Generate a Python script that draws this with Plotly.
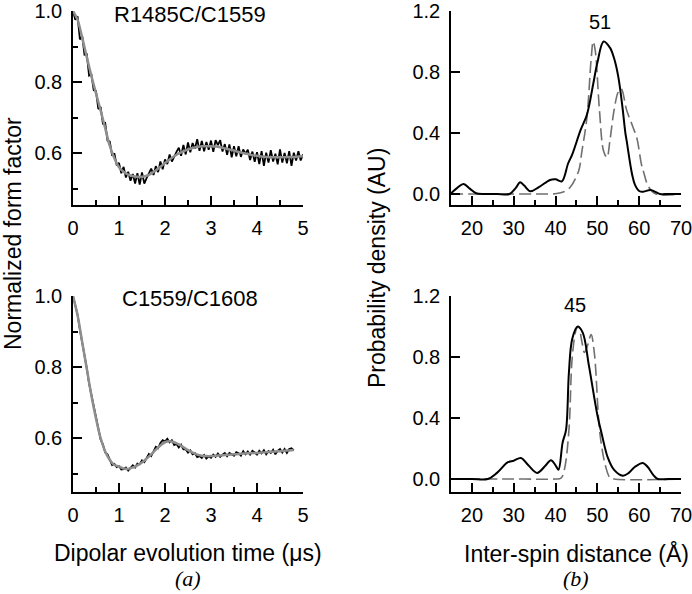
import plotly.graph_objects as go

W, H = 692, 594

# ---------------- data ----------------
# (a) top: R1485C/C1559
t_fit_top = [round(0.1 * i, 2) for i in range(51)]
fit_top = [1.000, 0.975, 0.925, 0.870, 0.817, 0.768, 0.720, 0.670, 0.620, 0.585,
           0.560, 0.547, 0.539, 0.535, 0.533, 0.533, 0.536, 0.542, 0.551, 0.561,
           0.572, 0.582, 0.591, 0.599, 0.605, 0.610, 0.614, 0.617, 0.619, 0.619,
           0.619, 0.618, 0.616, 0.613, 0.610, 0.607, 0.603, 0.600, 0.597, 0.594,
           0.592, 0.590, 0.589, 0.588, 0.588, 0.588, 0.588, 0.589, 0.589, 0.590,
           0.591]
t_dat_top = [round(0.05 * i, 2) for i in range(101)]
dat_top = [1.000, 0.975, 0.985, 0.920, 0.930, 0.877, 0.878, 0.818, 0.821, 0.777,
           0.774, 0.724, 0.730, 0.683, 0.685, 0.635, 0.632, 0.593, 0.599, 0.565,
           0.572, 0.543, 0.561, 0.531, 0.547, 0.522, 0.541, 0.514, 0.543, 0.511,
           0.545, 0.514, 0.529, 0.541, 0.556, 0.538, 0.563, 0.546, 0.576, 0.554,
           0.582, 0.569, 0.596, 0.576, 0.591, 0.603, 0.615, 0.592, 0.623, 0.596,
           0.630, 0.602, 0.628, 0.612, 0.639, 0.606, 0.634, 0.605, 0.631, 0.609,
           0.635, 0.603, 0.636, 0.622, 0.636, 0.604, 0.625, 0.595, 0.624, 0.588,
           0.619, 0.591, 0.619, 0.589, 0.610, 0.598, 0.609, 0.580, 0.604, 0.575,
           0.602, 0.569, 0.605, 0.564, 0.601, 0.573, 0.608, 0.576, 0.598, 0.568,
           0.610, 0.573, 0.600, 0.571, 0.605, 0.564, 0.601, 0.579, 0.605, 0.579,
           0.596]

# (a) bottom: C1559/C1608
t_fit_bot = [round(0.1 * i, 2) for i in range(49)]
fit_bot = [1.000, 0.945, 0.870, 0.795, 0.720, 0.655, 0.600, 0.562, 0.538, 0.524,
           0.520, 0.514, 0.513, 0.517, 0.523, 0.531, 0.542, 0.554, 0.567, 0.579,
           0.588, 0.591, 0.588, 0.582, 0.574, 0.566, 0.559, 0.553, 0.550, 0.549,
           0.549, 0.550, 0.551, 0.552, 0.553, 0.554, 0.555, 0.556, 0.557, 0.558,
           0.558, 0.559, 0.560, 0.561, 0.562, 0.563, 0.564, 0.565, 0.566]
t_dat_bot = [round(0.05 * i, 2) for i in range(97)]
dat_bot = [1.000, 0.971, 0.947, 0.905, 0.869, 0.837, 0.796, 0.753, 0.722, 0.685,
           0.659, 0.628, 0.596, 0.582, 0.559, 0.554, 0.536, 0.524, 0.527, 0.518,
           0.521, 0.511, 0.512, 0.517, 0.508, 0.517, 0.523, 0.517, 0.528, 0.526,
           0.537, 0.532, 0.544, 0.555, 0.549, 0.563, 0.575, 0.571, 0.586, 0.594,
           0.590, 0.598, 0.588, 0.594, 0.580, 0.583, 0.573, 0.581, 0.568, 0.568,
           0.559, 0.565, 0.554, 0.557, 0.546, 0.549, 0.544, 0.552, 0.542, 0.548,
           0.544, 0.553, 0.547, 0.556, 0.547, 0.553, 0.558, 0.549, 0.558, 0.554,
           0.550, 0.560, 0.557, 0.550, 0.563, 0.554, 0.562, 0.553, 0.564, 0.559,
           0.553, 0.564, 0.557, 0.566, 0.554, 0.563, 0.558, 0.567, 0.554, 0.564,
           0.569, 0.559, 0.569, 0.558, 0.569, 0.571, 0.565]

# (b) top: distance distributions
r_top_solid = [15, 16.5, 18, 19.5, 21, 23, 26, 29, 30.5, 31.5, 32.5, 34, 36, 38.7,
               40, 41.5, 43, 44, 46, 47.5, 49, 50, 51.5, 53, 54, 55, 56, 56.7, 57,
               58.3, 59, 60.1, 61, 62.7, 64, 65, 67, 70]
p_top_solid = [0.004, 0.04, 0.066, 0.035, 0.005, 0.0, 0.0, 0.0, 0.04, 0.077, 0.055,
               0.018, 0.045, 0.092, 0.096, 0.083, 0.2, 0.26, 0.42, 0.52, 0.72, 0.86,
               1.0, 0.96, 0.89, 0.77, 0.57, 0.40, 0.35, 0.13, 0.06, 0.018, 0.015,
               0.026, 0.012, 0.0, 0.0, 0.0]
r_top_dash = [15, 25, 35, 40.3, 42, 43.5, 45.5, 46.3, 47.5, 48.5, 49, 49.5, 50.5,
              51.5, 52.3, 53, 54, 55, 55.7, 57, 58.5, 59.5, 60.5, 61, 62.3, 64, 70]
p_top_dash = [0.0, 0.0, 0.0, 0.003, 0.015, 0.044, 0.15, 0.28, 0.5, 0.88, 1.0, 0.94,
              0.55, 0.28, 0.24, 0.35, 0.55, 0.67, 0.69, 0.55, 0.44, 0.36, 0.2,
              0.15, 0.044, 0.0, 0.0]

# (b) bottom
r_bot_solid = [15, 20, 23.8, 26, 28.6, 30, 31.7, 33.5, 35.6, 37.5, 38.9, 40, 40.7,
               41.7, 42.5, 43.2, 44, 45.3, 46.5, 48, 50, 51, 52.5, 54, 56.1, 57.5,
               59, 60.9, 62, 63.5, 64.5, 67, 70]
p_bot_solid = [0.0, 0.0, 0.0, 0.04, 0.11, 0.12, 0.138, 0.09, 0.04, 0.085, 0.123,
               0.09, 0.061, 0.24, 0.32, 0.7, 0.92, 1.0, 0.96, 0.74, 0.42, 0.3,
               0.14, 0.06, 0.022, 0.04, 0.08, 0.105, 0.08, 0.022, 0.0, 0.0, 0.0]
r_bot_dash = [15, 30, 40, 41.3, 42.1, 43.2, 44, 45, 45.5, 46.3, 46.9, 47.7, 48.5,
              49.3, 50.6, 52, 53, 54, 70]
p_bot_dash = [0.0, 0.0, 0.0, 0.005, 0.06, 0.32, 0.8, 0.985, 1.0, 0.9, 0.83, 0.88,
              0.947, 0.82, 0.3, 0.08, 0.01, 0.0, 0.0]

labels_a = ["R1485C/C1559", "C1559/C1608"]
labels_b = ["51", "45"]

# ---------------- layout helpers ----------------
def px_x(p):
    return p / W

def px_y(p):
    return 1 - p / H

FONT = "Liberation Sans, Arial, sans-serif"
BLACK_LINE = dict(color="black", width=2)
BLACK_NOISE = dict(color="black", width=1.8)
FIT_LINE = dict(color="#8e8e8e", width=2.5)
DASH_LINE = dict(color="#707070", width=1.6, dash="12px,5px")

fig = go.Figure()

fig.add_trace(go.Scatter(x=t_dat_top, y=dat_top, mode="lines", line=BLACK_NOISE,
                         xaxis="x", yaxis="y", showlegend=False))
fig.add_trace(go.Scatter(x=t_fit_top, y=fit_top, mode="lines", line=FIT_LINE,
                         line_shape="spline", xaxis="x", yaxis="y", showlegend=False))
fig.add_trace(go.Scatter(x=t_dat_bot, y=dat_bot, mode="lines", line=BLACK_NOISE,
                         xaxis="x2", yaxis="y2", showlegend=False))
fig.add_trace(go.Scatter(x=t_fit_bot, y=fit_bot, mode="lines", line=FIT_LINE,
                         line_shape="spline", xaxis="x2", yaxis="y2", showlegend=False))
fig.add_trace(go.Scatter(x=r_top_dash, y=p_top_dash, mode="lines", line=DASH_LINE,
                         line_shape="spline", xaxis="x3", yaxis="y3", showlegend=False))
fig.add_trace(go.Scatter(x=r_top_solid, y=p_top_solid, mode="lines", line=BLACK_LINE,
                         line_shape="spline", xaxis="x3", yaxis="y3", showlegend=False))
fig.add_trace(go.Scatter(x=r_bot_dash, y=p_bot_dash, mode="lines", line=DASH_LINE,
                         line_shape="spline", xaxis="x4", yaxis="y4", showlegend=False))
fig.add_trace(go.Scatter(x=r_bot_solid, y=p_bot_solid, mode="lines", line=BLACK_LINE,
                         line_shape="spline", xaxis="x4", yaxis="y4", showlegend=False))

TOP_T, TOP_B = 11, 205
BOT_T, BOT_B = 296, 492
LX0, LX1 = 73, 303
RX0, RX1 = 451, 681

def yl_range(top_px, bot_px):
    return [1.0 - (bot_px - top_px) / 355.0, 1.0]

def yr_range(top_px, bot_px):
    ppu = 183 / 1.2
    return [-(bot_px - top_px - 183) / ppu, 1.2]

tickfont = dict(family=FONT, size=20, color="black")

def xaxis_common(dom, rng, minor_dtick, tickvals, anchor):
    return dict(domain=dom, range=rng, anchor=anchor, showline=True, linecolor="black",
                linewidth=1.5, ticks="inside", ticklen=9, tickwidth=1.5,
                tickcolor="black", tickvals=tickvals, tickfont=tickfont,
                showgrid=False, zeroline=False, automargin=False,
                ticklabelstandoff=4, ticklabeloverflow="allow", fixedrange=True,
                minor=dict(ticks="inside", ticklen=5, tickwidth=1.5, tickcolor="black",
                           dtick=minor_dtick, tick0=0, showgrid=False))

def yaxis_common(dom, rng, tickvals, anchor, minor_dtick=None):
    d = dict(domain=dom, range=rng, anchor=anchor, showline=True, linecolor="black",
             linewidth=1.5, ticks="inside", ticklen=9, tickwidth=1.5,
             tickcolor="black", tickvals=tickvals, tickformat=".1f",
             tickfont=tickfont, showgrid=False, zeroline=False, automargin=False,
             ticklabelstandoff=5, ticklabeloverflow="allow", fixedrange=True)
    if minor_dtick:
        d["minor"] = dict(ticks="inside", ticklen=5, tickwidth=1.5, tickcolor="black",
                          dtick=minor_dtick, tick0=0.5, showgrid=False)
    return d

fig.update_layout(
    width=W, height=H, autosize=False, margin=dict(l=0, r=0, t=0, b=0, pad=0),
    paper_bgcolor="white", plot_bgcolor="white",
    font=dict(family=FONT, color="black"),
    xaxis=xaxis_common([px_x(LX0), px_x(LX1)], [0, 5], 0.5, [0, 1, 2, 3, 4, 5], "y"),
    yaxis=yaxis_common([px_y(TOP_B), px_y(TOP_T)], yl_range(TOP_T, TOP_B),
                       [0.6, 0.8, 1.0], "x", minor_dtick=0.2),
    xaxis2=xaxis_common([px_x(LX0), px_x(LX1)], [0, 5], 0.5, [0, 1, 2, 3, 4, 5], "y2"),
    yaxis2=yaxis_common([px_y(BOT_B), px_y(BOT_T)], yl_range(BOT_T, BOT_B),
                        [0.6, 0.8, 1.0], "x2", minor_dtick=0.2),
    xaxis3=xaxis_common([px_x(RX0), px_x(RX1)], [15, 70], 5,
                        [20, 30, 40, 50, 60, 70], "y3"),
    yaxis3=yaxis_common([px_y(TOP_B), px_y(TOP_T)], yr_range(TOP_T, TOP_B),
                        [0.0, 0.4, 0.8, 1.2], "x3"),
    xaxis4=xaxis_common([px_x(RX0), px_x(RX1)], [15, 70], 5,
                        [20, 30, 40, 50, 60, 70], "y4"),
    yaxis4=yaxis_common([px_y(BOT_B), px_y(BOT_T)], yr_range(BOT_T, BOT_B),
                        [0.0, 0.4, 0.8, 1.2], "x4"),
)

anns = []
def ann(text, x, y, size, angle=0, fam=FONT):
    anns.append(dict(text=text, x=px_x(x), y=px_y(y), xref="paper", yref="paper",
                     showarrow=False, textangle=angle, xanchor="center", yanchor="middle",
                     font=dict(family=fam, size=size, color="black")))

ann(labels_a[0], 190, 14, 22)
ann(labels_a[1], 190, 298, 22)
ann(labels_b[0], 600, 22, 20)
ann(labels_b[1], 575, 305, 20)
ann("Normalized form factor", 13, 234, 23, angle=-90)
ann("Probability density (AU)", 377, 268, 23, angle=-90)
ann("Dipolar evolution time (μs)", 188, 553, 23)
ann("Inter-spin distance (Å)", 576, 553, 23)
ann("<i>(a)</i>", 188, 578, 22, fam="Liberation Serif, Times New Roman, serif")
ann("<i>(b)</i>", 576, 578, 22, fam="Liberation Serif, Times New Roman, serif")
fig.update_layout(annotations=anns)

fig.write_html("out.html", config={"displayModeBar": False},
               post_script="document.body.style.margin='0';document.body.style.overflow='hidden';")
